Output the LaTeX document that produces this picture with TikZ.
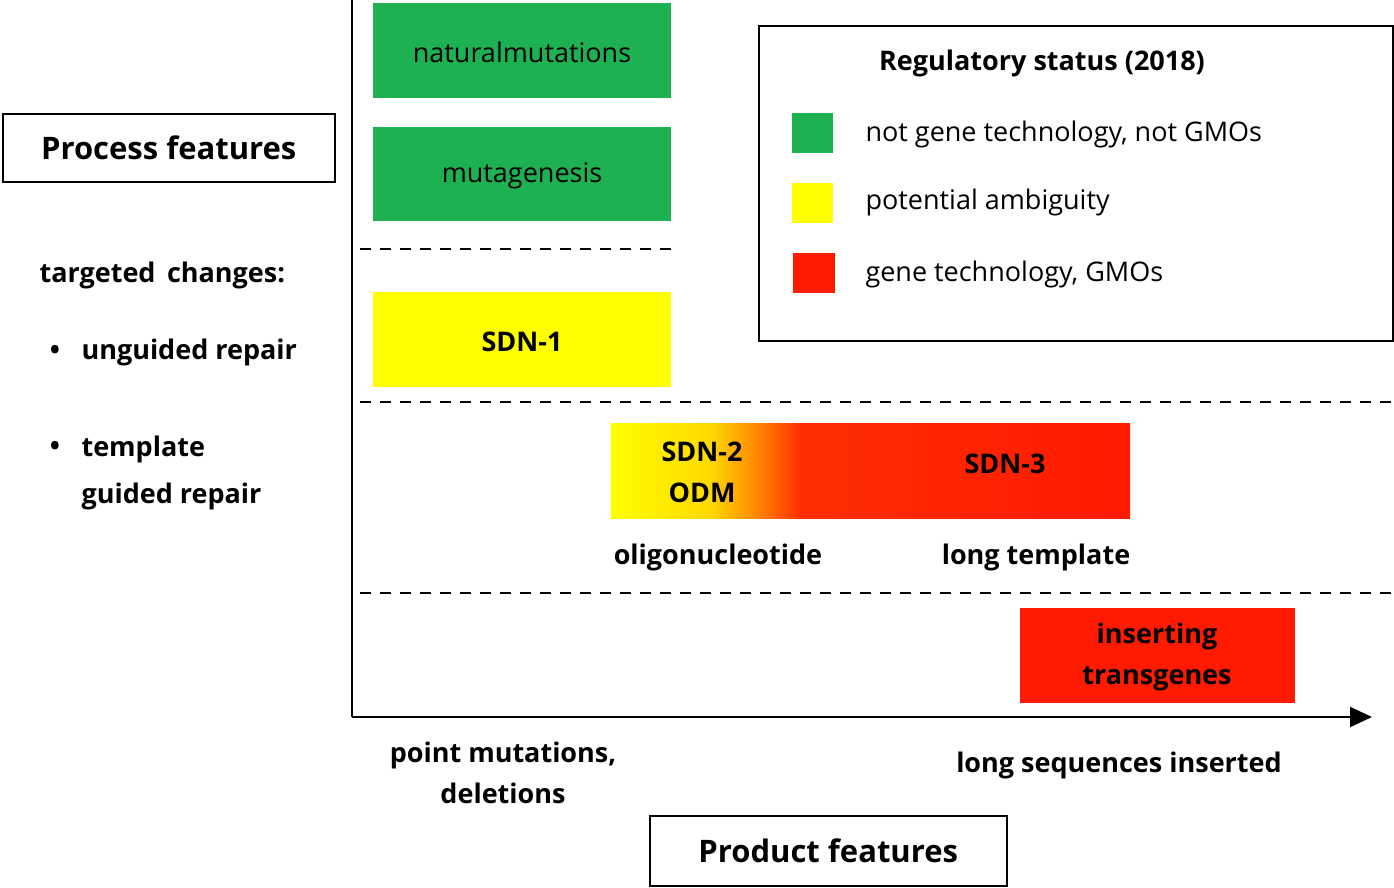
\documentclass[tikz,border=0pt]{standalone}
\usepackage{fontspec}
\setmainfont{Open Sans}
\usetikzlibrary{arrows.meta}
\definecolor{gr}{HTML}{1DB152}
\definecolor{ye}{HTML}{FFFF00}
\definecolor{rd}{HTML}{FF1A00}
\begin{document}
\begin{tikzpicture}[x=1pt,y=-1pt,
  bx/.style={minimum width=#1,anchor=north west,inner sep=0pt,align=center},
  tx/.style={font=\fontsize{27}{33}\selectfont},
  bt/.style={font=\fontsize{27}{47}\selectfont\bfseries},
  dl/.style={dashed,line width=1.8pt,dash pattern=on 11pt off 9pt},
  fr/.style={draw,line width=1.5pt,inner sep=0pt,anchor=north west}]
\useasboundingbox (0,0) rectangle (1394,887);
% axes
\coordinate (o) at (352,717);
\coordinate (ytop) at (352,0);
\coordinate (xend) at (1372,717);
\draw[line width=2pt] (ytop) -- (o);
\draw[line width=2pt,-{Triangle[length=22pt,width=20pt]}] (o) -- (xend);
% dashed
\coordinate (d1a) at (360,249); \coordinate (d1b) at (680,249);
\coordinate (d2a) at (360,402); \coordinate (d2b) at (1394,402);
\coordinate (d3a) at (360,593); \coordinate (d3b) at (1394,593);
\draw[dl] (d1a) -- (d1b);
\draw[dl] (d2a) -- (d2b);
\draw[dl] (d3a) -- (d3b);
% boxes
\fill[gr] (373,3) rectangle (671,98);
\node[tx] (nm) at (522,52) {natural\\[-4pt]mutations};
\node[tx,align=center] at (522,52) {};
\fill[gr] (373,127) rectangle (671,221);
\node[tx] (mg) at (522,176) {mutagenesis};
\fill[ye] (373,292) rectangle (671,387);
\node[bt] (s1) at (522,342) {SDN-1};
\shade[left color=ye,right color=ye!70!orange] (611,423) rectangle (711,518);
\shade[left color=ye!70!orange,right color=orange] (710,423) rectangle (761,518);
\shade[left color=orange,right color=rd!80!orange] (760,423) rectangle (801,518);
\shade[left color=rd!80!orange,right color=rd] (800,423) rectangle (1130,518);
\node[bt,align=center] (s2) at (702,472) {SDN-2\\[-6pt]ODM};
\node[bt] (s3) at (1005,464) {SDN-3};
\fill[rd] (1020,608) rectangle (1295,703);
\node[bt,align=center] (it) at (1157,657) {inserting\\[-6pt]transgenes};
% legend
\node[fr,minimum width=634pt,minimum height=315pt] (leg) at (758,25) {};
\node[bt] (lt) at (1042,63) {Regulatory status (2018)};
\fill[gr] (792,113) rectangle (833,153);
\fill[ye] (792,183) rectangle (833,223);
\fill[rd] (793,253) rectangle (835,293);
\node[tx,anchor=west] (l1) at (862,134) {not gene technology, not GMOs};
\node[tx,anchor=west] (l2) at (862,202) {potential ambiguity};
\node[tx,anchor=west] (l3) at (862,274) {gene technology, GMOs};
% side labels
\node[fr,minimum width=332pt,minimum height=68pt,font=\fontsize{31}{36}\selectfont\bfseries] (pf) at (2,113) {Process features};
\node[fr,minimum width=357pt,minimum height=70pt,font=\fontsize{31}{36}\selectfont\bfseries] (pr) at (649,815) {Product features};
\node[bt,anchor=west] (tc) at (36,275) {targeted\, changes:};
\node[bt] (b1) at (55,352) {•};
\node[bt,anchor=west] (ug) at (78,352) {unguided repair};
\node[bt] (b2) at (55,448) {•};
\node[bt,anchor=west] (tp) at (78,449) {template};
\node[bt,anchor=west] (gr2) at (78,496) {guided repair};
\node[bt] (ol) at (718,557) {oligonucleotide};
\node[bt] (lo) at (1036,557) {long template};
\node[bt,align=center] (pm) at (503,773) {point mutations,\\[-6pt]deletions};
\node[bt] (ls) at (1119,765) {long sequences inserted};
\end{tikzpicture}
\end{document}
